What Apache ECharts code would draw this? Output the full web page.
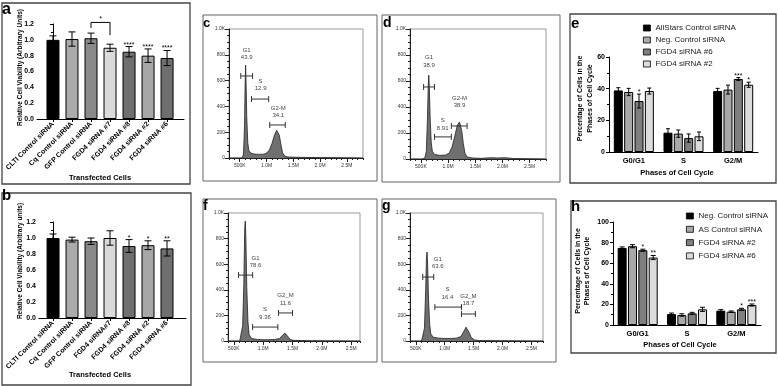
<!DOCTYPE html>
<html><head><meta charset="utf-8">
<script src="https://cdn.jsdelivr.net/npm/echarts@6/dist/echarts.min.js"></script>
<style>html,body{margin:0;padding:0;background:#fff}#c{width:778px;height:386px}</style>
</head><body><div id="c"></div>
<script>
// ---------------- data ----------------
// panel a
const aNames = ['CLTI Control siRNA','Cq Control siRNA','GFP Control siRNA','FGD4 siRNA #7','FGD4 siRNA #8','FGD4 siRNA #2','FGD4 siRNA #6'];
const aVals = [1.00, 1.01, 1.02, 0.90, 0.85, 0.80, 0.77];
const aErr  = [0.05, 0.09, 0.065, 0.045, 0.065, 0.085, 0.095];
const aSig  = ['', '', '', '', '****', '****', '****'];
const aBracket = [[2, 3, 1.22, 1.15, 1.06]];
const aBracketSig = ['*'];
// panel b
const bNames = ['CLTI Control siRNA','Cq Control siRNA','GFP Control siRNA','FGD4 siRNA#7','FGD4 siRNA #8','FGD4 siRNA #2','FGD4 siRNA #6'];
const bVals = [1.00, 0.98, 0.96, 1.00, 0.90, 0.91, 0.87];
const bErr  = [0.05, 0.03, 0.04, 0.09, 0.08, 0.055, 0.095];
const bSig  = ['', '', '', '', '*', '*', '**'];
const barTicks = [0, 1, 2, 3, 4, 5, 6];
const viabilityColors = ['#000000','#ababab','#8a8a8a','#dadada','#6f6f6f','#a6a6a6','#6f6f6f'];

// panel e
const phases = ['G0/G1', 'S', 'G2/M'];
const eNames = ['AllStars Control siRNA', 'Neg. Control siRNA', 'FGD4 siRNA #6', 'FGD4 siRNA #2'];
const eAllStars = [38.9, 12.2, 38.5];
const eNeg      = [37.9, 11.6, 39.4];
const eF6       = [32.2, 8.8, 46.1];
const eF2       = [38.5, 9.9, 42.5];
const eAllStarsErr = [1.7, 2.5, 1.7];
const eNegErr      = [2.3, 2.3, 2.8];
const eF6Err       = [4.4, 2.6, 0.9];
const eF2Err       = [1.9, 2.7, 1.6];
const eF6Sig = ['*', '', '***'];
const eF2Sig = ['', '', '*'];
// panel h
const hNames = ['Neg. Control siRNA', 'AS Control siRNA', 'FGD4 siRNA #2', 'FGD4 siRNA #6'];
const hNeg = [74.8, 10.6, 13.9];
const hAS  = [76.5, 9.7, 12.9];
const hF2  = [72.6, 11.3, 15.2];
const hF6  = [65.5, 15.2, 19.4];
const hNegErr = [1.0, 1.0, 1.0];
const hASErr  = [1.5, 1.2, 0.7];
const hF2Err  = [1.0, 1.0, 1.0];
const hF6Err  = [2.0, 2.0, 1.0];
const hF2Sig = ['*', '', '*'];
const hF6Sig = ['**', '', '***'];
const groupColors = ['#000000', '#a9a9a9', '#7f7f7f', '#dcdcdc'];

// flow histograms: [DNA content (M), count]
const flowTickVals = [0.5, 1.0, 1.5, 2.0, 2.5];
const flowTickLabels = ['500K', '1.0M', '1.5M', '2.0M', '2.5M'];
const cHist = [[0.30,0],[0.50,0],[0.55,2],[0.57,30],[0.59,250],[0.60,560],[0.61,720],[0.62,560],[0.63,330],[0.65,120],[0.67,60],[0.70,40],[0.75,32],[0.85,28],[0.95,30],[1.00,38],[1.05,60],[1.10,110],[1.15,180],[1.19,215],[1.21,217],[1.24,175],[1.27,100],[1.30,40],[1.34,15],[1.40,8],[1.60,5],[2.00,3],[2.40,2],[2.80,0]];
const dHist = [[0.30,0],[0.52,0],[0.57,5],[0.60,60],[0.62,300],[0.635,560],[0.645,645],[0.655,560],[0.67,320],[0.69,130],[0.71,60],[0.75,35],[0.85,28],[0.95,30],[1.02,45],[1.07,90],[1.12,170],[1.17,260],[1.21,285],[1.25,220],[1.28,120],[1.31,45],[1.35,15],[1.45,8],[1.60,5],[1.80,10],[1.90,8],[2.05,10],[2.20,4],[2.50,2],[2.80,0]];
const fHist = [[0.40,0],[0.60,0],[0.63,10],[0.65,120],[0.67,450],[0.685,880],[0.695,937],[0.705,800],[0.72,420],[0.74,150],[0.76,50],[0.80,20],[0.90,12],[1.00,10],[1.10,10],[1.20,12],[1.28,20],[1.33,45],[1.37,62],[1.40,55],[1.43,30],[1.46,12],[1.52,5],[1.80,2],[2.65,0]];
const gHist = [[0.40,0],[0.60,0],[0.63,10],[0.65,100],[0.67,380],[0.685,650],[0.695,695],[0.705,600],[0.72,330],[0.74,130],[0.76,55],[0.80,30],[0.90,22],[1.00,20],[1.10,20],[1.20,22],[1.28,35],[1.33,75],[1.37,108],[1.40,100],[1.43,60],[1.46,25],[1.52,8],[1.60,3],[2.00,2],[2.70,0]];
// gates: [name, percent, from, to, level, labelX, labelY]
const cGates = [['G1','43.9',0.52,0.74,636,0.63,806],['S','12.9',0.72,1.04,457,0.89,566],['G2-M','34.1',1.06,1.35,256,1.22,357]];
const dGates = [['G1','38.9',0.55,0.75,554,0.65,750],['S','8.91',0.75,1.06,170,0.90,265],['G2-M','38.9',1.06,1.35,254,1.21,438]];
const fGates = [['G1','78.6',0.58,0.82,515,0.87,617],['S','9.36',0.82,1.25,109,1.03,215],['G2_M','11.6',1.26,1.50,219,1.38,325]];
const gGates = [['G1','63.6',0.62,0.81,500,0.88,609],['S','16.4',0.83,1.29,265,1.05,371],['G2_M','18.7',1.29,1.53,211,1.41,320]];

// ---------------- chart ----------------
const FONT = '"Liberation Sans", Arial, sans-serif';
const chart = echarts.init(document.getElementById('c'), null, {renderer: 'canvas'});

function viabilityX(names, gi, min, max) {
  return {type:'value', gridIndex:gi, min:min, max:max, splitLine:{show:false},
    axisLine:{lineStyle:{color:'#000', width:1}},
    axisTick:{customValues:barTicks, length:3, lineStyle:{color:'#000'}},
    axisLabel:{customValues:barTicks, formatter:v => names[Math.round(v)], rotate:45, fontSize:7, fontWeight:'bold', color:'#000', margin:4, fontFamily:FONT}};
}
function viabilityY(gi) {
  return {type:'value', gridIndex:gi, min:0, max:1.2, interval:0.2, splitLine:{show:false},
    axisLine:{show:true, lineStyle:{color:'#000'}}, axisTick:{show:true, length:3, lineStyle:{color:'#000'}},
    minorTick:{show:true, splitNumber:2, length:2, lineStyle:{color:'#000'}},
    axisLabel:{formatter:v => v.toFixed(1), fontSize:7, fontWeight:'bold', color:'#000', margin:3, fontFamily:FONT}};
}
function flowX(gi, min, max) {
  return [
    {type:'value', gridIndex:gi, position:'bottom', min:min, max:max, interval:0.1, splitLine:{show:false},
      axisLine:{lineStyle:{color:'#222', width:1}}, axisTick:{length:2, lineStyle:{color:'#222'}}, axisLabel:{show:false}},
    {type:'value', gridIndex:gi, position:'bottom', min:min, max:max, splitLine:{show:false},
      axisLine:{show:false},
      axisTick:{customValues:flowTickVals, length:4, lineStyle:{color:'#222'}},
      axisLabel:{customValues:flowTickVals, formatter:v => flowTickLabels[flowTickVals.indexOf(Math.round(v*10)/10)], fontSize:5, color:'#333', margin:5, fontFamily:FONT}}
  ];
}
function flowY(gi) {
  return {type:'value', gridIndex:gi, min:0, max:1000, interval:200, splitLine:{show:false},
    axisLine:{show:true, lineStyle:{color:'#222'}}, axisTick:{show:true, length:4, lineStyle:{color:'#222'}},
    minorTick:{show:true, splitNumber:4, length:2, lineStyle:{color:'#222'}},
    axisLabel:{formatter:v => v === 1000 ? '1.0K' : String(v), fontSize:5, color:'#333', margin:4, fontFamily:FONT}};
}
function groupX(gi) {
  return {type:'category', gridIndex:gi, data:phases,
    axisLine:{lineStyle:{color:'#000'}}, axisTick:{alignWithLabel:true, length:3, lineStyle:{color:'#000'}},
    axisLabel:{fontSize:7.5, fontWeight:'bold', color:'#000', margin:5, fontFamily:FONT}};
}
function groupY(gi, max) {
  return {type:'value', gridIndex:gi, min:0, max:max, interval:20, splitLine:{show:false},
    axisLine:{show:true, lineStyle:{color:'#000'}}, axisTick:{show:true, length:3, lineStyle:{color:'#000'}},
    minorTick:{show:true, splitNumber:2, length:2, lineStyle:{color:'#000'}},
    axisLabel:{fontSize:7, fontWeight:'bold', color:'#000', margin:4, fontFamily:FONT}};
}

function errorSeries(xi, yi, xs, vals, errs, sigs, capHalf, dx) {
  return {type:'custom', xAxisIndex:xi, yAxisIndex:yi, z:5, silent:true,
    data: vals.map((v, i) => [xs[i], v, errs[i]]),
    renderItem: (p, api) => {
      const top = api.coord([api.value(0), api.value(1) + api.value(2)]);
      const bot = api.coord([api.value(0), api.value(1) - api.value(2)]);
      const cx = top[0] + dx;
      const st = {stroke:'#000', lineWidth:1};
      const ch = [
        {type:'line', shape:{x1:cx, y1:top[1], x2:cx, y2:bot[1]}, style:st},
        {type:'line', shape:{x1:cx-capHalf, y1:top[1], x2:cx+capHalf, y2:top[1]}, style:st},
        {type:'line', shape:{x1:cx-capHalf, y1:bot[1], x2:cx+capHalf, y2:bot[1]}, style:st}
      ];
      const s = sigs[p.dataIndex];
      if (s) ch.push({type:'text', style:{text:s, x:cx, y:top[1]+1.5, align:'center', verticalAlign:'bottom', fontSize:7, fill:'#000', fontFamily:FONT}});
      return {type:'group', children:ch};
    }};
}

function viabilityBars(xi, yi, vals) {
  return {type:'bar', xAxisIndex:xi, yAxisIndex:yi, barWidth:13, silent:true,
    data: vals.map((v, i) => ({value:[i, v], itemStyle:{color:viabilityColors[i]}})),
    itemStyle:{borderColor:'#000', borderWidth:1}};
}

function flowSeries(hist, gates, xi, yi) {
  return [
    {type:'line', xAxisIndex:xi, yAxisIndex:yi, data:hist, symbol:'none', silent:true, z:2,
      lineStyle:{color:'#222', width:0.8}, areaStyle:{color:'#707070', opacity:1}},
    {type:'custom', xAxisIndex:xi, yAxisIndex:yi, z:3, silent:true,
      data: gates.map(g => g.slice(2)),
      renderItem: (p, api) => {
        const a = api.coord([api.value(0), api.value(2)]);
        const b = api.coord([api.value(1), api.value(2)]);
        const l = api.coord([api.value(3), api.value(4)]);
        const st = {stroke:'#333', lineWidth:1};
        const g = gates[p.dataIndex];
        return {type:'group', children:[
          {type:'line', shape:{x1:a[0], y1:a[1], x2:b[0], y2:b[1]}, style:st},
          {type:'line', shape:{x1:a[0], y1:a[1]-3, x2:a[0], y2:a[1]+3}, style:st},
          {type:'line', shape:{x1:b[0], y1:b[1]-3, x2:b[0], y2:b[1]+3}, style:st},
          {type:'text', style:{text:g[0] + '\n' + g[1], x:l[0], y:l[1], align:'center', verticalAlign:'middle', fontSize:6, lineHeight:7.5, fill:'#444', fontFamily:FONT}}
        ]};
      }}
  ];
}

const BW = 9, STEP = 10.35;
function groupSeries(names, valsArr, errArr, sigArr, xi, yi, capHalf) {
  const out = [];
  names.forEach((n, k) => {
    out.push({type:'bar', name:n, xAxisIndex:xi, yAxisIndex:yi, barWidth:BW, barGap:'15%', silent:true,
      data: valsArr[k], itemStyle:{color:groupColors[k], borderColor:'#000', borderWidth:1}});
  });
  names.forEach((n, k) => {
    out.push(errorSeries(xi, yi, [0, 1, 2], valsArr[k], errArr[k], sigArr[k], capHalf, (k - 1.5) * STEP));
  });
  return out;
}
const hLegendNames = hNames.map(n => n + ' ');

const series = [].concat(
  [viabilityBars(0, 0, aVals), errorSeries(0, 0, barTicks, aVals, aErr, aSig, 3.5, 0),
   {type:'custom', xAxisIndex:0, yAxisIndex:0, z:5, silent:true, data:aBracket,
    renderItem: (p, api) => {
      const p1 = api.coord([api.value(0), api.value(2)]), p2 = api.coord([api.value(1), api.value(2)]);
      const q1 = api.coord([api.value(0), api.value(3)]), q2 = api.coord([api.value(1), api.value(4)]);
      return {type:'group', children:[
        {type:'polyline', shape:{points:[q1, p1, p2, q2]}, style:{stroke:'#000', fill:null, lineWidth:1}},
        {type:'text', style:{text:aBracketSig[p.dataIndex], x:(p1[0]+p2[0])/2, y:p1[1]+0.5, align:'center', verticalAlign:'bottom', fontSize:7, fill:'#000', fontFamily:FONT}}
      ]};
    }},
   viabilityBars(1, 1, bVals), errorSeries(1, 1, barTicks, bVals, bErr, bSig, 3.5, 0)],
  flowSeries(cHist, cGates, 2, 2),
  flowSeries(dHist, dGates, 4, 3),
  flowSeries(fHist, fGates, 6, 4),
  flowSeries(gHist, gGates, 8, 5),
  groupSeries(eNames, [eAllStars, eNeg, eF6, eF2], [eAllStarsErr, eNegErr, eF6Err, eF2Err], [[], [], eF6Sig, eF2Sig], 10, 6, 2),
  groupSeries(hLegendNames, [hNeg, hAS, hF2, hF6], [hNegErr, hASErr, hF2Err, hF6Err], [[], [], hF2Sig, hF6Sig], 11, 7, 2.5)
);

function frame(x, y, w, h, c, lw) {
  return {type:'rect', shape:{x:x, y:y, width:w, height:h}, style:{fill:null, stroke:c, lineWidth:lw}, silent:true, z:0};
}
function letter(t, x, y, s) {
  return {type:'text', x:x, y:y, style:{text:t, fontSize:s, fontWeight:'bold', fill:'#000', fontFamily:FONT, align:'left', verticalAlign:'middle'}, z:10};
}
function title(t, x, y, s, rot, lh) {
  return {type:'text', x:x, y:y, rotation:rot ? Math.PI/2 : 0,
    style:{text:t, fontSize:s, fontWeight:'bold', fill:'#000', fontFamily:FONT, align:'center', verticalAlign:'middle', lineHeight:lh || s*1.2}, z:10};
}

const option = {
  animation:false,
  textStyle:{fontFamily:FONT},
  grid:[
    {left:37, top:24, width:147, height:95},
    {left:39, top:222, width:147, height:96},
    {left:229, top:29, width:134, height:129, show:true, borderColor:'#9a9a9a', borderWidth:1},
    {left:410, top:29, width:136, height:130, show:true, borderColor:'#9a9a9a', borderWidth:1},
    {left:228, top:213, width:132, height:128, show:true, borderColor:'#9a9a9a', borderWidth:1},
    {left:410, top:213, width:133, height:128, show:true, borderColor:'#9a9a9a', borderWidth:1},
    {left:609, top:57, width:149, height:95},
    {left:613, top:222, width:148, height:103}
  ],
  xAxis:[].concat(
    [viabilityX(aNames, 0, -0.84, 6.89), viabilityX(bNames, 1, -0.74, 7.0)],
    flowX(2, 0.3, 2.8), flowX(3, 0.3, 2.8), flowX(4, 0.4, 2.65), flowX(5, 0.4, 2.7),
    [groupX(6), groupX(7)]
  ),
  yAxis:[viabilityY(0), viabilityY(1), flowY(2), flowY(3), flowY(4), flowY(5), groupY(6, 60), groupY(7, 100)],
  legend:[
    {data:eNames, left:638, top:19, orient:'vertical', icon:'rect', itemWidth:7, itemHeight:6, itemGap:4, selectedMode:false,
      textStyle:{fontSize:8, color:'#222', fontFamily:FONT}, itemStyle:{borderColor:'#000', borderWidth:0.8}},
    {data:hLegendNames, left:681, top:207, orient:'vertical', icon:'rect', itemWidth:7, itemHeight:6, itemGap:5.3, selectedMode:false,
      textStyle:{fontSize:8, color:'#222', fontFamily:FONT}, itemStyle:{borderColor:'#000', borderWidth:0.8}}
  ],
  series:series,
  graphic:[
    frame(2, 3, 188, 181, '#444', 1.3),
    frame(2, 193, 189, 192, '#444', 1.3),
    frame(203, 15, 174, 166, '#666', 1),
    frame(382, 15, 178, 167, '#666', 1),
    frame(203, 199, 174, 163, '#666', 1),
    frame(382, 199, 174, 163, '#666', 1),
    frame(570, 14, 206, 169, '#444', 1.3),
    frame(571, 201, 205, 152, '#444', 1.3),
    letter('a', 2, 9.5, 16), letter('b', 2, 196, 15),
    letter('c', 203, 23.5, 13), letter('d', 383, 23, 14),
    letter('f', 203, 206, 14), letter('g', 382, 206, 14),
    letter('e', 571, 23.7, 15), letter('h', 571, 206.7, 15),
    title('Relative Cell Viability (Arbitrary Units)', 20, 67.5, 6.5, true),
    title('Transfected Cells', 100, 178, 7.5, false),
    title('Relative Cell Viability (Arbitrary units)', 20.5, 261, 6.5, true),
    title('Transfected Cells', 100, 375, 7.5, false),
    title('Percentage of Cells in the\nPhases of Cell Cycle', 585, 98.5, 7, true, 10),
    title('Phases of Cell Cycle', 677, 173, 7.5, false),
    title('Percentage of Cells in the\nPhases of Cell Cycle', 582.5, 271, 7, true, 9.5),
    title('Phases of Cell Cycle', 680, 345, 7.5, false)
  ]
};
chart.setOption(option);
</script>
</body></html>
